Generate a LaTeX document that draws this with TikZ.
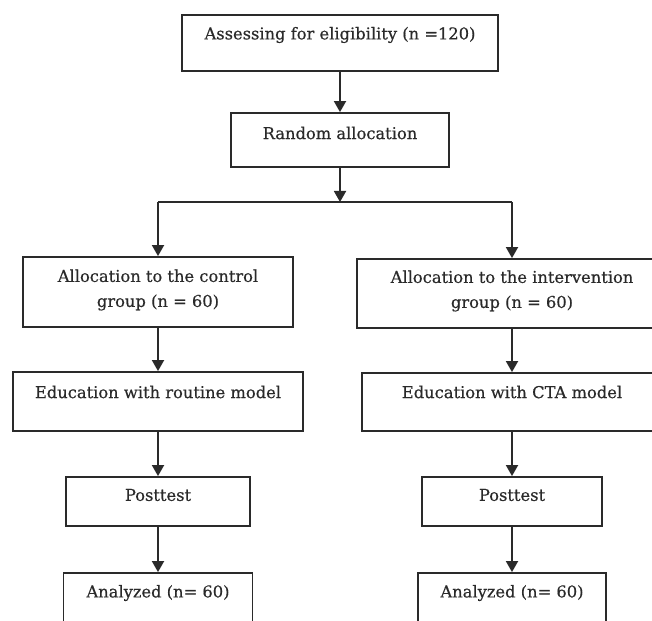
\documentclass[tikz,border=0pt]{standalone}
\usepackage{fontspec}
\newfontfamily\diafont[FakeBold=0.4]{DejaVu Serif}
\usetikzlibrary{arrows.meta}
\definecolor{ink}{HTML}{2A2A2A}
\tikzset{
  box/.style={draw=ink, line width=1.8pt, inner sep=0pt, fill=white},
  txt/.style={text=ink, inner sep=0pt, font=\diafont\fontsize{16.3}{25}\selectfont, align=center},
  arr/.style={draw=ink, line width=1.8pt, -{Triangle[width=12pt,length=11pt]}},
  ln/.style={draw=ink, line width=1.8pt}
}
\begin{document}
\begin{tikzpicture}[x=1pt,y=-1pt]
\useasboundingbox (0,0) rectangle (652,620);
\clip (0,0) rectangle (652,620);
% boxes
\node[box, minimum width=316pt, minimum height=56pt] (b1) at (340,43) {};
\node[box, minimum width=218pt, minimum height=54pt] (b2) at (340,140) {};
\node[box, minimum width=270pt, minimum height=70pt] (l1) at (158,292) {};
\node[box, minimum width=290pt, minimum height=59pt] (l2) at (158,401.5) {};
\node[box, minimum width=184pt, minimum height=49pt] (l3) at (158,501.5) {};
\node[box, minimum width=189pt, minimum height=70pt] (l4) at (158,608) {};
\node[box, minimum width=310pt, minimum height=69pt] (r1) at (512,293.5) {};
\node[box, minimum width=300pt, minimum height=58pt] (r2) at (512,402) {};
\node[box, minimum width=180pt, minimum height=49pt] (r3) at (512,501.5) {};
\node[box, minimum width=188pt, minimum height=70pt] (r4) at (512,608) {};
% texts
\node[txt] (t1) at (340,35) {Assessing for eligibility (n =120)};
\node[txt] (t2) at (340,133) {Random allocation};
\node[txt] (tl1) at (158,290) {Allocation to the control\\group (n = 60)};
\node[txt] (tl2) at (158,392) {Education with routine model};
\node[txt] (tl3) at (158,495) {Posttest};
\node[txt] (tl4) at (158,593) {Analyzed (n= 60)};
\node[txt] (tr1) at (512,291) {Allocation to the intervention\\group (n = 60)};
\node[txt] (tr2) at (512,392) {Education with CTA model};
\node[txt] (tr3) at (512,495) {Posttest};
\node[txt] (tr4) at (512,593) {Analyzed (n= 60)};
% connectors
\coordinate (j) at (340,202);
\coordinate (jl) at (158,202);
\coordinate (jr) at (512,202);
\draw[arr] (b1.south) -- (b2.north);
\draw[arr] (b2.south) -- (j);
\draw[ln] (jl) -- (jr);
\draw[arr] (jl) -- (l1.north);
\draw[arr] (jr) -- (r1.north);
\draw[arr] (l1.south) -- (l2.north);
\draw[arr] (l2.south) -- (l3.north);
\draw[arr] (l3.south) -- (l4.north);
\draw[arr] (r1.south) -- (r2.north);
\draw[arr] (r2.south) -- (r3.north);
\draw[arr] (r3.south) -- (r4.north);
\end{tikzpicture}
\end{document}
